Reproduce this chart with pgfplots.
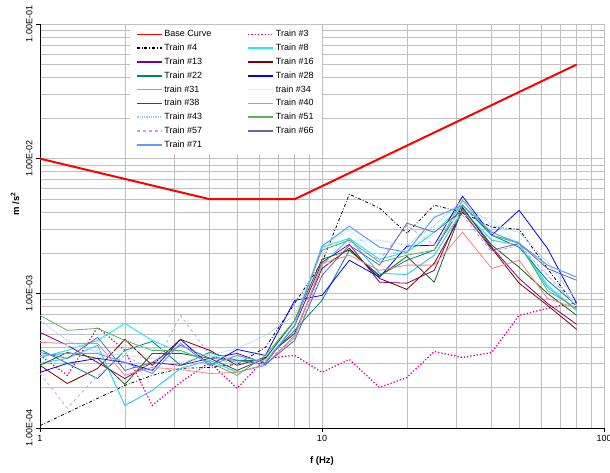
\documentclass[border=0pt]{standalone}
\usepackage{fontspec}
\setmainfont{Liberation Sans}
\usepackage{pgfplots}
\pgfplotsset{compat=1.18}
\usepackage{pgfplotstable}
\pgfplotstableread{
f    t3      t4      t8      t13     t16     t22     t28     t31     t34     t38     t40     t43     t51     t57     t66     t71
1    3.46e-4 1.04e-4 3.34e-4 5.13e-4 2.92e-4 3.83e-4 2.59e-4 3.02e-4 4.47e-4 2.92e-4 4.32e-4 6.30e-4 6.86e-4 2.54e-4 3.64e-4 3.46e-4
1.25 2.46e-4 1.30e-4 3.77e-4 4.11e-4 2.14e-4 3.02e-4 3.02e-4 3.29e-4 4.11e-4 3.64e-4 4.25e-4 4.47e-4 5.31e-4 1.40e-4 3.29e-4 3.58e-4
1.6  5.59e-4 1.66e-4 4.47e-4 3.07e-4 2.77e-4 2.33e-4 3.29e-4 4.11e-4 3.77e-4 3.29e-4 4.25e-4 3.64e-4 5.49e-4 2.46e-4 4.71e-4 3.58e-4
2    3.77e-4 2.07e-4 5.98e-4 2.33e-4 4.55e-4 3.77e-4 3.07e-4 1.47e-4 3.64e-4 2.11e-4 2.46e-4 3.46e-4 4.47e-4 3.46e-4 2.68e-4 3.07e-4
2.5  1.47e-4 2.46e-4 4.47e-4 3.07e-4 2.92e-4 4.40e-4 2.68e-4 1.90e-4 3.90e-4 3.58e-4 2.82e-4 3.29e-4 3.77e-4 2.68e-4 3.07e-4 2.54e-4
3.15 2.18e-4 2.77e-4 3.64e-4 2.92e-4 4.55e-4 2.92e-4 4.55e-4 2.77e-4 3.64e-4 3.58e-4 2.72e-4 3.07e-4 3.77e-4 6.86e-4 4.11e-4 4.25e-4
4    3.07e-4 2.82e-4 3.46e-4 3.29e-4 3.77e-4 3.64e-4 2.92e-4 3.18e-4 3.46e-4 3.29e-4 2.54e-4 3.46e-4 3.07e-4 3.46e-4 3.29e-4 2.92e-4
5    1.97e-4 2.97e-4 3.07e-4 3.58e-4 2.92e-4 3.18e-4 3.83e-4 2.59e-4 3.29e-4 2.68e-4 2.59e-4 3.90e-4 2.46e-4 2.92e-4 3.18e-4 3.46e-4
6.3  3.29e-4 3.97e-4 3.29e-4 3.02e-4 3.34e-4 3.18e-4 3.46e-4 2.92e-4 3.18e-4 3.29e-4 2.97e-4 4.87e-4 3.46e-4 3.18e-4 2.97e-4 3.07e-4
8    3.46e-4 8.43e-4 6.09e-4 5.78e-4 5.04e-4 5.31e-4 8.87e-4 4.87e-4 6.09e-4 6.30e-4 4.71e-4 6.86e-4 6.30e-4 4.47e-4 4.47e-4 5.78e-4
10   2.59e-4 1.70e-3 2.20e-3 1.70e-3 1.53e-3 8.87e-4 9.66e-4 1.62e-3 2.28e-3 1.79e-3 1.67e-3 2.09e-3 2.09e-3 1.48e-3 1.36e-3 2.24e-3
12.5 3.23e-4 5.45e-3 2.56e-3 2.31e-3 2.16e-3 2.09e-3 1.76e-3 2.56e-3 2.94e-3 2.09e-3 1.92e-3 2.48e-3 2.48e-3 2.40e-3 2.28e-3 3.15e-3
16   2.00e-4 4.29e-3 1.79e-3 1.21e-3 1.29e-3 1.36e-3 1.32e-3 1.41e-3 1.92e-3 1.34e-3 1.48e-3 2.48e-3 1.70e-3 1.76e-3 1.62e-3 2.20e-3
20   2.37e-4 2.79e-3 2.02e-3 1.19e-3 1.07e-3 1.76e-3 2.24e-3 1.38e-3 2.09e-3 1.88e-3 1.62e-3 2.28e-3 1.92e-3 3.20e-3 3.32e-3 2.02e-3
25   3.70e-4 4.51e-3 2.84e-3 1.48e-3 1.67e-3 2.09e-3 2.28e-3 1.92e-3 2.94e-3 1.21e-3 1.62e-3 3.20e-3 2.09e-3 2.28e-3 2.84e-3 3.67e-3
31.5 3.34e-4 4.00e-3 4.51e-3 4.36e-3 4.00e-3 4.51e-3 5.26e-3 4.14e-3 3.80e-3 4.29e-3 2.84e-3 4.91e-3 4.91e-3 3.80e-3 4.14e-3 4.51e-3
40   3.64e-4 3.10e-3 2.70e-3 2.20e-3 2.16e-3 2.70e-3 2.70e-3 2.48e-3 3.61e-3 2.28e-3 1.53e-3 3.20e-3 2.70e-3 2.02e-3 2.09e-3 2.84e-3
50   6.86e-4 2.99e-3 2.40e-3 1.29e-3 1.19e-3 2.20e-3 4.14e-3 2.28e-3 2.28e-3 1.56e-3 1.76e-3 2.84e-3 2.35e-3 2.28e-3 2.35e-3 2.35e-3
63   7.74e-4 1.53e-3 1.15e-3 8.43e-4 8.14e-4 1.25e-3 2.16e-3 1.11e-3 1.36e-3 1.00e-3 9.18e-4 1.70e-3 1.05e-3 1.36e-3 1.53e-3 1.62e-3
80   8.57e-4 7.87e-4 7.47e-4 5.88e-4 5.40e-4 8.14e-4 8.43e-4 7.47e-4 8.14e-4 6.86e-4 7.74e-4 8.87e-4 7.74e-4 8.14e-4 1.25e-3 1.32e-3
}\data
\definecolor{cT8}{HTML}{22EEEE}
\definecolor{cT13}{HTML}{800080}
\definecolor{cT16}{HTML}{800000}
\definecolor{cT22}{HTML}{008080}
\definecolor{cT28}{HTML}{0000FF}
\definecolor{cT31}{HTML}{33CCFF}
\definecolor{cT34}{HTML}{C8FAFA}
\definecolor{cT38}{HTML}{1F5C1F}
\definecolor{cT40}{HTML}{FF7F7F}
\definecolor{cT43}{HTML}{99CCFF}
\definecolor{cT51}{HTML}{5FAF5F}
\definecolor{cT57}{HTML}{CC99FF}
\definecolor{cT66}{HTML}{6666AA}
\definecolor{cT71}{HTML}{6699FF}
\definecolor{gridc}{HTML}{C0C0C0}
\begin{document}
\begin{tikzpicture}
\begin{loglogaxis}[
  scale only axis,
  width=564bp, height=404bp,
  xmin=1, xmax=100, ymin=1e-4, ymax=1e-1,
  axis x line*=bottom, axis y line*=left,
  axis line style={black, line width=0.8pt},
  grid=both,
  major grid style={gridc, line width=0.7pt},
  minor grid style={gridc, line width=0.6pt},
  xtick={1,10,100}, xticklabels={1,10,100},
  ytick={1e-4,1e-3,1e-2,1e-1},
  yticklabels={1.00E-04,1.00E-03,1.00E-02,1.00E-01},
  tick align=outside,
  major tick length=4bp, minor tick length=0bp,
  tick style={black, line width=0.6pt},
  ticklabel style={font=\fontsize{9bp}{11bp}\selectfont},
  yticklabel style={rotate=90, anchor=south},
  /pgf/number format/assume math mode=true,
  xlabel={\textbf{f (Hz)}},
  ylabel={\textbf{m /s\textsuperscript{2}}},
  label style={font=\fontsize{9.5bp}{11bp}\selectfont},
  xlabel style={at={(rel axis cs:0.5,0)}, anchor=center, yshift=-33bp},
  ylabel style={at={(ticklabel cs:0.555)}, anchor=near ticklabel},
  legend columns=2,
  legend cell align=left,
  legend style={at={(rel axis cs:0.159,0.997)}, anchor=north west, draw=none, fill=white,
    font=\fontsize{9bp}{11bp}\selectfont, row sep=1.8bp, inner xsep=6bp, inner ysep=3bp,
    /tikz/every even column/.append style={column sep=34bp}},
  legend image code/.code={\draw[#1] (0bp,0bp) -- (25bp,0bp);},
  legend image post style={line width=1.5pt},
  every axis plot/.append style={line width=0.8pt},
]
\addplot[red, line width=2pt] coordinates {(1,0.01) (4,0.005) (8,0.005) (80,0.05)};
\addlegendentry{Base Curve}
\addplot[magenta, line width=1.3pt, dotted] table[x=f,y=t3] {\data};
\addlegendentry{Train \#3}
\addplot[black, dash dot] table[x=f,y=t4] {\data};
\addlegendentry{Train \#4}
\addplot[cT8, line width=1pt] table[x=f,y=t8] {\data};
\addlegendentry{Train \#8}
\addplot[cT13] table[x=f,y=t13] {\data};
\addlegendentry{Train \#13}
\addplot[cT16] table[x=f,y=t16] {\data};
\addlegendentry{Train \#16}
\addplot[cT22] table[x=f,y=t22] {\data};
\addlegendentry{Train \#22}
\addplot[cT28] table[x=f,y=t28] {\data};
\addlegendentry{Train \#28}
\addplot[cT31, line width=1pt] table[x=f,y=t31] {\data};
\addlegendentry{train \#31}
\addplot[cT34, line width=1pt] table[x=f,y=t34] {\data};
\addlegendentry{train \#34}
\addplot[cT38] table[x=f,y=t38] {\data};
\addlegendentry{train \#38}
\addplot[cT40] table[x=f,y=t40] {\data};
\addlegendentry{Train \#40}
\addplot[cT43, densely dotted, line width=1pt] table[x=f,y=t43] {\data};
\addlegendentry{Train \#43}
\addplot[cT51] table[x=f,y=t51] {\data};
\addlegendentry{Train \#51}
\addplot[cT57, dashed] table[x=f,y=t57] {\data};
\addlegendentry{Train \#57}
\addplot[cT66] table[x=f,y=t66] {\data};
\addlegendentry{Train \#66}
\addplot[cT71, line width=1pt] table[x=f,y=t71] {\data};
\addlegendentry{Train \#71}
\coordinate (bl) at (rel axis cs:0,0);
\coordinate (tr) at (rel axis cs:1,1);
\end{loglogaxis}
\pgfresetboundingbox
\path ([shift={(-40bp,-45bp)}]bl) rectangle ([shift={(6bp,24bp)}]tr);
\end{tikzpicture}
\end{document}
